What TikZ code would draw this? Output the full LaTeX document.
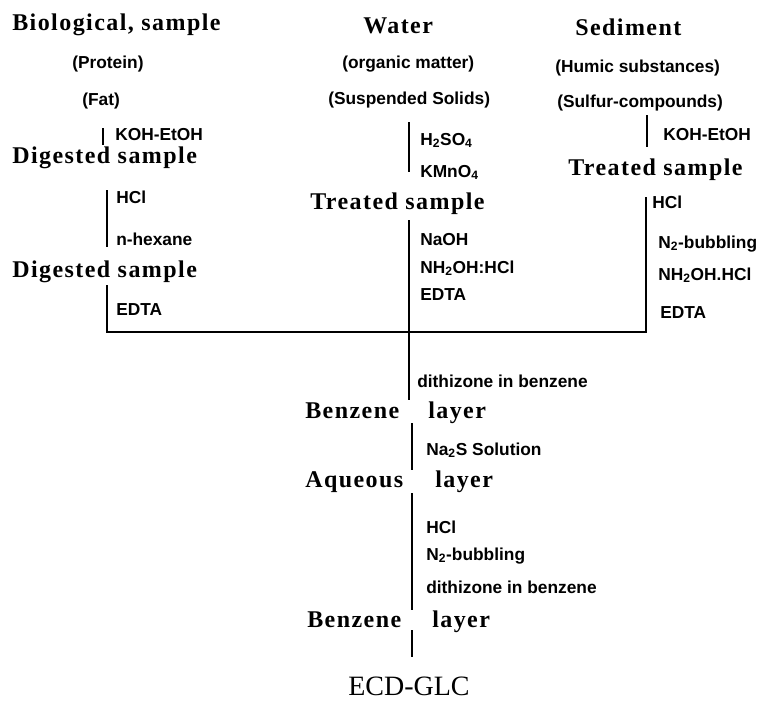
\documentclass[tikz,border=0pt]{standalone}
\usepackage{fontspec}
\setmainfont{Liberation Serif}
\newfontfamily\headfont[LetterSpace=6]{Liberation Serif}
\newfontfamily\labelfont{Liberation Sans}
\begin{document}
\begin{tikzpicture}[x=0.75pt, y=-0.75pt]
    \tikzstyle{sample} = [anchor=base west, inner sep=0pt, font=\headfont\bfseries\fontsize{18}{21}\selectfont]
    \tikzstyle{reagent} = [anchor=base west, inner sep=0pt, font=\labelfont\bfseries\fontsize{13}{15}\selectfont]
    \tikzstyle{flow} = [line width=1.3pt]

    \useasboundingbox (0,0) rectangle (771,700);

    % Biological sample column
    \node [sample] (bio) at (12,30) {Biological, sample};
    \node [reagent] (protein) at (72,68) {(Protein)};
    \node [reagent] (fat) at (82,105) {(Fat)};
    \node [reagent] (koh1) at (115,140) {KOH-EtOH};
    \node [sample] (dig1) at (12,163) {Digested sample};
    \node [reagent] (hcl1) at (116,203) {HCl};
    \node [reagent] (hex) at (116,245) {n-hexane};
    \node [sample] (dig2) at (12,277) {Digested sample};
    \node [reagent] (edta1) at (116,315) {EDTA};

    % Water column
    \node [sample] (water) at (363,33) {Water};
    \node [reagent] (org) at (342,68) {(organic matter)};
    \node [reagent] (susp) at (328,104) {(Suspended Solids)};
    \node [reagent] (h2so4) at (420,145) {H\textsubscript{2}SO\textsubscript{4}};
    \node [reagent] (kmno4) at (420,177) {KMnO\textsubscript{4}};
    \node [sample] (treat1) at (310,209) {Treated sample};
    \node [reagent] (naoh) at (420,245) {NaOH};
    \node [reagent] (hyd1) at (420,273) {NH\textsubscript{2}OH:HCl};
    \node [reagent] (edta2) at (420,300) {EDTA};

    % Sediment column
    \node [sample] (sed) at (575,35) {Sediment};
    \node [reagent] (humic) at (555,72) {(Humic substances)};
    \node [reagent] (sulf) at (557,107) {(Sulfur-compounds)};
    \node [reagent] (koh2) at (663,140) {KOH-EtOH};
    \node [sample] (treat2) at (568,175) {Treated sample};
    \node [reagent] (hcl2) at (652,208) {HCl};
    \node [reagent] (bub1) at (658,248) {N\textsubscript{2}-bubbling};
    \node [reagent] (hyd2) at (658,280) {NH\textsubscript{2}OH.HCl};
    \node [reagent] (edta3) at (660,318) {EDTA};

    % Common extraction
    \node [reagent] (dith1) at (417,387) {dithizone in benzene};
    \node [sample] (benz1) at (305,418) {Benzene};
    \node [sample] (lay1) at (428,418) {layer};
    \node [reagent] (na2s) at (426,455) {Na\textsubscript{2}S Solution};
    \node [sample] (aq) at (305,487) {Aqueous};
    \node [sample] (lay2) at (435,487) {layer};
    \node [reagent] (hcl3) at (426,533) {HCl};
    \node [reagent] (bub2) at (426,560) {N\textsubscript{2}-bubbling};
    \node [reagent] (dith2) at (426,593) {dithizone in benzene};
    \node [sample] (benz2) at (307,627) {Benzene};
    \node [sample] (lay3) at (432,627) {layer};
    \node [anchor=base west, inner sep=0pt, font=\fontsize{21}{24}\selectfont] (ecd) at (348,695) {ECD-GLC};

    % Flow lines
    \coordinate (b1) at (103,128); \coordinate (b2) at (103,145);
    \coordinate (b3) at (107,190); \coordinate (b4) at (107,247);
    \coordinate (b5) at (107,285); \coordinate (join) at (107,332);
    \coordinate (w1) at (409,122); \coordinate (w2) at (409,172);
    \coordinate (w3) at (409,220); \coordinate (w4) at (409,400);
    \coordinate (s1) at (647,115); \coordinate (s2) at (647,147);
    \coordinate (s3) at (646,197); \coordinate (s4) at (646,332);
    \coordinate (c1) at (412,423); \coordinate (c2) at (412,470);
    \coordinate (c3) at (412,493); \coordinate (c4) at (412,610);
    \coordinate (c5) at (412,630); \coordinate (c6) at (412,657);

    \draw [flow] (b1) -- (b2);
    \draw [flow] (b3) -- (b4);
    \draw [flow] (b5) -- (join) -- (s4) -- (s3);
    \draw [flow] (w1) -- (w2);
    \draw [flow] (w3) -- (w4);
    \draw [flow] (s1) -- (s2);
    \draw [flow] (c1) -- (c2);
    \draw [flow] (c3) -- (c4);
    \draw [flow] (c5) -- (c6);
\end{tikzpicture}
\end{document}
